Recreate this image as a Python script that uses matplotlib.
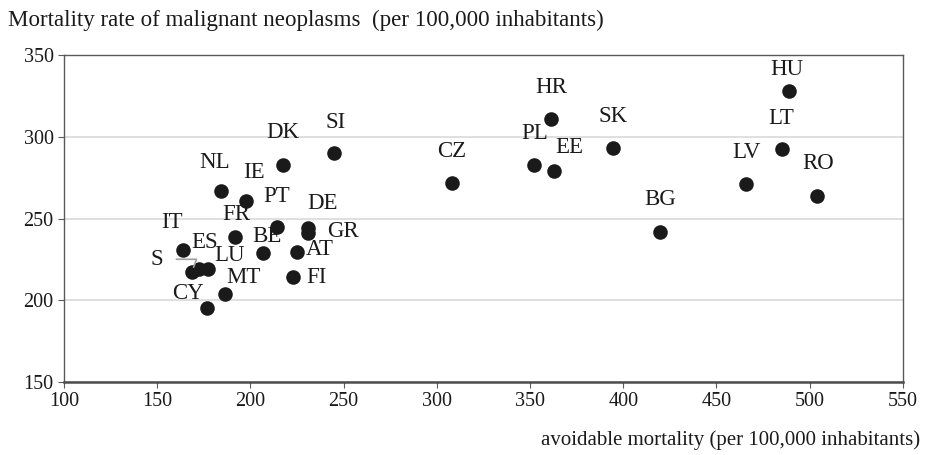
import matplotlib.pyplot as plt

plt.rcParams['font.family'] = ['Liberation Serif', 'DejaVu Serif']

# data
paises = ['HU', 'LT', 'LV', 'RO', 'BG', 'SK', 'HR', 'PL', 'EE', 'CZ',
          'SI', 'DK', 'NL', 'IE', 'PT', 'DE', 'GR', 'FR', 'BE', 'AT',
          'FI', 'IT', 'ES', 'LU', 'S', 'MT', 'CY']
evitable = [489, 485, 466, 504, 420, 394.5, 361, 352, 363, 308,
            245, 217.5, 184, 197.5, 214, 231, 231, 191.5, 207, 225,
            223, 164, 172.5, 177.5, 168.5, 186.5, 176.5]
neoplasias = [328, 292.5, 271, 264, 242, 293, 311, 283, 279, 272,
              290, 283, 267, 261, 245, 244, 241, 238.5, 229, 229.5,
              214, 231, 219, 219, 217, 204, 195]

# label offsets in pixels (dx, dy) from each dot
offsets = {
    'HU': (-2, 21), 'LT': (0, 31), 'LV': (0, 32), 'RO': (1, 32),
    'BG': (0, 32), 'SK': (0, 32), 'HR': (1, 31), 'PL': (1, 31),
    'EE': (15, 24), 'CZ': (0, 31), 'SI': (1, 31), 'DK': (0, 32),
    'NL': (-6, 28), 'IE': (8, 28), 'PT': (0, 30), 'DE': (14, 25),
    'GR': (35, 2), 'FR': (2, 23), 'BE': (4, 16), 'AT': (23, 3),
    'FI': (23, 0), 'IT': (-11, 27), 'ES': (5, 27), 'LU': (21, 14),
    'S': (-35, 13), 'MT': (18, 16), 'CY': (-19, 15),
}

fig = plt.figure(figsize=(9.25, 4.55), dpi=100)
ax = fig.add_axes([0.0692, 0.1604, 0.9068, 0.7187])

ax.scatter(evitable, neoplasias, s=110, color='#1a1a1a', zorder=3, linewidths=0)

for p, x, y in zip(paises, evitable, neoplasias):
    dx, dy = offsets[p]
    ax.annotate(p, (x, y), xytext=(dx * 0.72, dy * 0.72), textcoords='offset points',
                ha='center', va='center', fontsize=16.5, color='#1a1a1a')

# leader line for S
i = paises.index('S')
ax.annotate('', (evitable[i], neoplasias[i]), xytext=(-11, 9.5), textcoords='offset points',
            arrowprops=dict(arrowstyle='-', color='#a0a0a0', lw=1.2,
                            connectionstyle='angle,angleA=0,angleB=70,rad=0', shrinkA=0, shrinkB=4))

ax.set_xlim(100, 550)
ax.set_ylim(150, 350)
ax.set_xticks(range(100, 551, 50))
ax.set_yticks(range(150, 351, 50))
ax.grid(axis='y', color='#d9d9d9', lw=1.2)
ax.set_axisbelow(True)

for lado in ['left', 'right', 'top']:
    ax.spines[lado].set_color('#595959')
    ax.spines[lado].set_linewidth(1)
ax.spines['bottom'].set_color('#4d4d4d')
ax.spines['bottom'].set_linewidth(1.8)

ax.tick_params(axis='both', labelsize=14.5, colors='#1a1a1a', length=4, direction='out')
ax.tick_params(axis='x', color='#595959')
ax.tick_params(axis='y', color='#595959')

fig.text(8 / 925, 1 - 20 / 455, 'Mortality rate of malignant neoplasms  (per 100,000 inhabitants)',
         fontsize=16.6, ha='left', va='center', color='#1a1a1a')
fig.text(920 / 925, 1 - 440 / 455, 'avoidable mortality (per 100,000 inhabitants)',
         fontsize=15, ha='right', va='center', color='#1a1a1a')

fig.savefig('out.png', dpi=100)
